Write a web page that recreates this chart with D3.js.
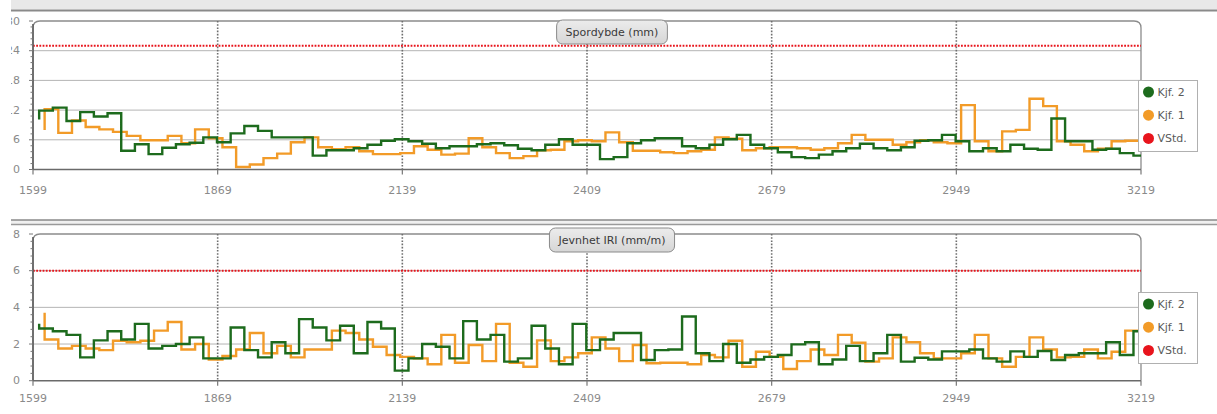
<!DOCTYPE html>
<html>
<head>
<meta charset="utf-8">
<script src="https://cdnjs.cloudflare.com/ajax/libs/d3/7.8.5/d3.min.js"></script>
<style>
  html, body { margin: 0; padding: 0; background: #fff; }
  svg { display: block; font-family: "DejaVu Sans", Verdana, sans-serif; }
</style>
</head>
<body>
<svg id="chart" width="1217" height="414"></svg>
<script>
// Stations (m) along the road and the x-axis tick labels
const stationRange = [1599, 3219];
const stationTicks = [1599, 1869, 2139, 2409, 2679, 2949, 3219];
const sectionLength = 20;
const kjf2Start = 1608;
const kjf1Start = 1616;

const seriesNames = ["Kjf. 2", "Kjf. 1", "VStd."];
const seriesColors = ["#1d6b1d", "#f29b28", "#e8141c"];

// Rut depth (mm)
const rutTicks = [0, 6, 12, 18, 24, 30];
const rutLimit = 25;
const rutKjf2Lead = 10.1;
const rutKjf2 = [
  11.9, 12.5, 9.8, 11.6, 10.7, 11.35, 3.8, 5.1, 3.1, 4.4,
  5.1, 5.4, 6.5, 5.5, 7.3, 8.8, 7.8, 6.5, 6.5, 6.5,
  2.8, 3.9, 3.9, 4.3, 5.0, 5.8, 6.1, 5.7, 5.2, 4.3,
  4.7, 4.7, 5.1, 5.3, 4.9, 4.2, 3.9, 5.0, 6.1, 5.0,
  5.0, 2.1, 2.5, 5.3, 5.9, 6.3, 6.3, 4.7, 4.3, 5.0,
  6.1, 7.0, 5.0, 4.3, 3.5, 2.5, 2.3, 3.0, 3.7, 4.3,
  5.2, 4.3, 3.9, 4.5, 5.8, 5.9, 7.0, 5.7, 3.7, 4.3,
  3.7, 5.0, 4.2, 4.0, 10.3, 5.7, 5.7, 4.0, 4.2, 3.3,
  2.8
];
const rutKjf1Lead = 8.0;
const rutKjf1 = [
  12.2, 7.4, 9.9, 8.6, 8.1, 7.6, 6.8, 5.9, 5.9, 6.8,
  5.3, 8.1, 6.3, 4.5, 0.5, 1.0, 2.3, 3.2, 5.5, 6.5,
  4.5, 4.1, 4.5, 3.7, 3.1, 3.1, 3.3, 4.7, 4.0, 3.0,
  3.2, 6.3, 4.5, 3.3, 2.3, 2.7, 3.9, 4.0, 5.7, 5.9,
  5.7, 7.5, 5.5, 3.8, 3.8, 3.5, 3.3, 3.7, 4.0, 6.5,
  6.2, 3.9, 4.3, 4.5, 4.5, 4.3, 4.0, 4.3, 5.3, 7.0,
  6.0, 6.0, 5.0, 5.5, 5.9, 5.5, 5.3, 13.0, 5.7, 3.7,
  7.7, 8.0, 14.3, 12.8, 5.7, 5.0, 3.7, 4.2, 5.7, 5.8
];

// Roughness IRI (mm/m)
const iriTicks = [0, 2, 4, 6, 8];
const iriLimit = 6;
const iriKjf2Lead = 3.1;
const iriKjf2 = [
  2.85, 2.7, 2.5, 1.27, 2.2, 2.7, 2.25, 3.1, 1.76, 1.9,
  2.0, 2.36, 1.22, 1.22, 2.9, 1.67, 1.27, 2.1, 1.5, 3.36,
  2.9, 2.2, 3.0, 1.5, 3.2, 2.85, 0.55, 1.22, 2.0, 1.85,
  1.22, 3.25, 2.25, 2.5, 1.04, 1.22, 3.0, 1.76, 0.9, 3.1,
  1.67, 2.25, 2.6, 2.6, 1.13, 1.67, 1.7, 3.5, 1.5, 1.07,
  2.0, 0.98, 1.16, 1.3, 1.4, 1.98, 2.1, 0.9, 1.16, 1.9,
  1.07, 1.5, 2.5, 1.04, 1.25, 1.16, 1.6, 1.6, 1.7, 1.22,
  1.04, 1.6, 1.3, 1.62, 1.13, 1.4, 1.5, 1.5, 2.1, 1.4,
  2.7
];
const iriKjf1Lead = 3.7;
const iriKjf1 = [
  2.25, 1.76, 1.9, 1.76, 1.67, 2.18, 2.1, 2.18, 2.73, 3.2,
  1.7, 2.0, 1.16, 1.35, 1.7, 2.6, 1.5, 1.9, 1.27, 1.7,
  1.7, 2.73, 2.6, 2.25, 1.85, 1.4, 1.3, 1.22, 0.9, 2.5,
  0.98, 1.95, 1.07, 3.1, 0.98, 0.76, 2.2, 1.07, 1.27, 1.5,
  2.36, 1.76, 1.07, 1.95, 0.95, 0.98, 0.98, 0.9, 1.4, 1.27,
  2.18, 0.76, 1.58, 1.3, 0.64, 1.07, 1.7, 1.4, 2.5, 2.07,
  1.04, 1.22, 2.36, 2.1, 1.5, 1.22, 1.22, 1.5, 2.5, 1.22,
  0.76, 1.3, 2.36, 1.7, 1.27, 1.3, 1.7, 1.22, 1.58, 2.73
];

// Panel layout
const plotLeft = 33, plotRight = 1141;
const panels = [
  {
    title: "Spordybde (mm)", ticks: rutTicks, limit: rutLimit,
    kjf2: rutKjf2, kjf2Lead: rutKjf2Lead, kjf1: rutKjf1, kjf1Lead: rutKjf1Lead,
    top: 21, bottom: 169.5, titleTop: 20, legendTop: 80, labelY: 190
  },
  {
    title: "Jevnhet IRI (mm/m)", ticks: iriTicks, limit: iriLimit,
    kjf2: iriKjf2, kjf2Lead: iriKjf2Lead, kjf1: iriKjf1, kjf1Lead: iriKjf1Lead,
    top: 234, bottom: 380.7, titleTop: 228, legendTop: 292, labelY: 398
  }
];

const svg = d3.select("#chart");
const defs = svg.append("defs");

const grad = defs.append("linearGradient")
  .attr("id", "titleFill").attr("x1", 0).attr("y1", 0).attr("x2", 0).attr("y2", 1);
grad.append("stop").attr("offset", "0%").attr("stop-color", "#ececec");
grad.append("stop").attr("offset", "100%").attr("stop-color", "#d6d6d6");

defs.append("clipPath").attr("id", "yLabelClip")
  .append("rect").attr("x", 11).attr("y", 0).attr("width", 40).attr("height", 414);

// Header band and panel separator
svg.append("rect").attr("x", 11).attr("y", 0).attr("width", 1206).attr("height", 9.5).attr("fill", "#e8e8e8");
svg.append("line").attr("x1", 11).attr("x2", 1217).attr("y1", 10.5).attr("y2", 10.5)
  .attr("stroke", "#8a8a8a").attr("stroke-width", 2);
svg.append("rect").attr("x", 11).attr("y", 220).attr("width", 1206).attr("height", 4.5).attr("fill", "#f0f0f0");
svg.append("line").attr("x1", 11).attr("x2", 1217).attr("y1", 220).attr("y2", 220)
  .attr("stroke", "#8a8a8a").attr("stroke-width", 1.6);
svg.append("line").attr("x1", 11).attr("x2", 1217).attr("y1", 224.5).attr("y2", 224.5)
  .attr("stroke", "#9a9a9a").attr("stroke-width", 1.4);

const x = d3.scaleLinear().domain(stationRange).range([plotLeft, plotRight]);

function stepPoints(start, lead, values) {
  const pts = [[start, lead]];
  values.forEach((v, i) => pts.push([start + i * sectionLength, v]));
  pts.push([stationRange[1], values[values.length - 1]]);
  return pts;
}

function drawPanel(p) {
  const g = svg.append("g");
  const maxV = p.ticks[p.ticks.length - 1];
  const y = d3.scaleLinear().domain([0, maxV]).range([p.bottom, p.top]);

  // horizontal grid
  g.selectAll(".hgrid").data(p.ticks.slice(1, -1)).join("line")
    .attr("x1", plotLeft).attr("x2", plotRight)
    .attr("y1", d => y(d)).attr("y2", d => y(d))
    .attr("stroke", "#b4b4b4").attr("stroke-width", 1);

  // frame with rounded top corners
  const r = 7, yt = y(maxV), yb = y(0);
  g.append("path")
    .attr("d", `M${plotLeft},${yb}L${plotLeft},${yt + r}Q${plotLeft},${yt} ${plotLeft + r},${yt}` +
               `L${plotRight - r},${yt}Q${plotRight},${yt} ${plotRight},${yt + r}L${plotRight},${yb}`)
    .attr("fill", "none").attr("stroke", "#8c8c8c").attr("stroke-width", 1.3);

  // vertical dotted grid at interior stations
  g.selectAll(".vgrid").data(stationTicks.slice(1, -1)).join("line")
    .attr("x1", d => x(d)).attr("x2", d => x(d))
    .attr("y1", yt).attr("y2", yb)
    .attr("stroke", "#6e6e6e").attr("stroke-width", 1.6).attr("stroke-dasharray", "1.6,1.6");

  // limit line
  g.append("line")
    .attr("x1", plotLeft).attr("x2", plotRight)
    .attr("y1", y(p.limit)).attr("y2", y(p.limit))
    .attr("stroke", seriesColors[2]).attr("stroke-width", 2).attr("stroke-dasharray", "1.8,1.4");

  // series
  const line = d3.line().x(d => x(d[0])).y(d => y(d[1])).curve(d3.curveStepAfter);
  g.append("path").datum(stepPoints(kjf1Start, p.kjf1Lead, p.kjf1))
    .attr("d", line).attr("fill", "none")
    .attr("stroke", seriesColors[1]).attr("stroke-width", 2.4).attr("stroke-linejoin", "miter");
  g.append("path").datum(stepPoints(kjf2Start, p.kjf2Lead, p.kjf2))
    .attr("d", line).attr("fill", "none")
    .attr("stroke", seriesColors[0]).attr("stroke-width", 2.4).attr("stroke-linejoin", "miter");

  // axes
  g.append("line").attr("x1", plotLeft).attr("x2", plotRight).attr("y1", yb).attr("y2", yb)
    .attr("stroke", "#6a6a6a").attr("stroke-width", 1.6);
  g.append("line").attr("x1", plotLeft).attr("x2", plotLeft).attr("y1", yt + 3).attr("y2", yb)
    .attr("stroke", "#5e5e5e").attr("stroke-width", 1.6);

  // y ticks: majors and four minors between each pair
  const step = p.ticks[1] - p.ticks[0];
  const minor = d3.range(0, maxV + 1e-9, step / 5);
  g.selectAll(".ytick").data(minor).join("line")
    .attr("x1", plotLeft).attr("x2", (d, i) => plotLeft - (i % 5 === 0 ? 4 : 2.5))
    .attr("y1", d => y(d)).attr("y2", d => y(d))
    .attr("stroke", "#777").attr("stroke-width", 1);

  g.append("g").attr("clip-path", "url(#yLabelClip)")
    .selectAll("text").data(p.ticks).join("text")
    .attr("x", 20).attr("y", d => y(d)).attr("text-anchor", "end")
    .attr("dominant-baseline", "central")
    .attr("font-size", 11).attr("fill", "#8a8a8a").text(d => d);

  // x ticks and labels
  g.selectAll(".xtick").data(stationTicks).join("line")
    .attr("x1", d => x(d)).attr("x2", d => x(d)).attr("y1", yb).attr("y2", yb + 5)
    .attr("stroke", "#777").attr("stroke-width", 1.2);
  g.selectAll(".xlabel").data(stationTicks).join("text")
    .attr("x", d => x(d)).attr("y", p.labelY).attr("text-anchor", "middle")
    .attr("dominant-baseline", "central")
    .attr("font-size", 11).attr("fill", "#8a8a8a").text(d => d);

  // title box
  const tg = g.append("g");
  const tt = tg.append("text").attr("x", 612).attr("y", p.titleTop + 12)
    .attr("text-anchor", "middle").attr("dominant-baseline", "central")
    .attr("font-size", 11).attr("fill", "#3a3a3a").text(p.title);
  const tw = tt.node().getComputedTextLength();
  tg.insert("rect", "text")
    .attr("x", 612 - tw / 2 - 9).attr("y", p.titleTop).attr("width", tw + 18).attr("height", 24)
    .attr("rx", 6).attr("fill", "url(#titleFill)").attr("stroke", "#8a8a8a").attr("stroke-width", 1);

  // legend
  const lg = g.append("g");
  lg.append("rect").attr("x", 1138.5).attr("y", p.legendTop + 0.5).attr("width", 59).attr("height", 71)
    .attr("fill", "#fff").attr("stroke", "#b0b0b0").attr("stroke-width", 1);
  const items = lg.selectAll(".item").data(seriesNames).join("g")
    .attr("transform", (d, i) => `translate(1148.5,${p.legendTop + 12 + i * 23.2})`);
  items.append("circle").attr("r", 5.5).attr("fill", (d, i) => seriesColors[i]);
  items.append("text").attr("x", 9).attr("dominant-baseline", "central")
    .attr("font-size", 11).attr("fill", "#5a5a5a").text(d => d);
}

panels.forEach(drawPanel);
</script>
</body>
</html>
